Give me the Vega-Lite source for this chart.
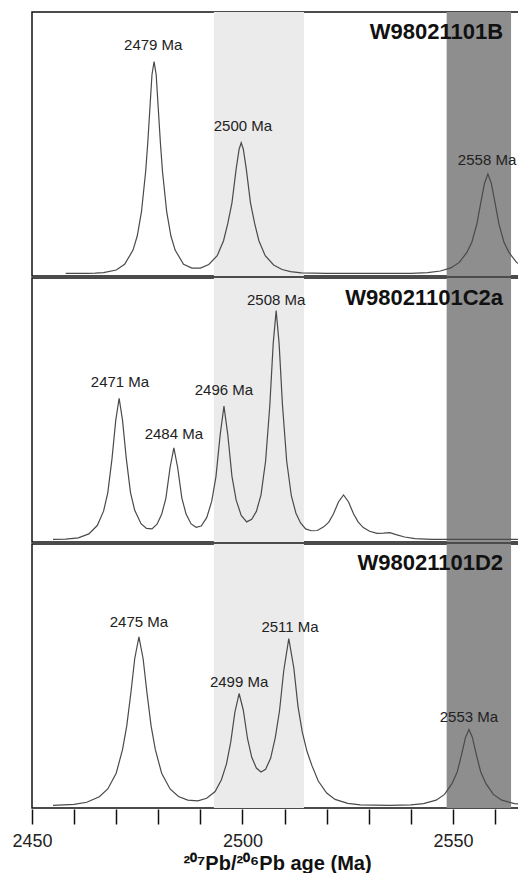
{
"$schema":"https://vega.github.io/schema/vega-lite/v6.json",
"padding":{"left":11,"top":11,"right":0,"bottom":0},
"background":"white",
"data":{"values":[
{"p":"B","k":"b","x":2493.2,"x2":2514.6,"f":"s"},{"p":"B","k":"b","x":2548.5,"x2":2563.8,"f":"d"},
{"p":"C2a","k":"b","x":2493.2,"x2":2514.6,"f":"s"},{"p":"C2a","k":"b","x":2548.5,"x2":2563.8,"f":"d"},
{"p":"D2","k":"b","x":2493.2,"x2":2514.6,"f":"s"},{"p":"D2","k":"b","x":2548.5,"x2":2563.8,"f":"d"},
{"p":"B","k":"t","x":2561.9,"y":0.924,"t":"W98021101B"},
{"p":"C2a","k":"t","x":2561.9,"y":0.923,"t":"W98021101C2a"},
{"p":"D2","k":"t","x":2561.9,"y":0.927,"t":"W98021101D2"},
{"p":"B","k":"l","x":2478.8,"y":0.874,"t":"2479 Ma"},
{"p":"B","k":"l","x":2500.1,"y":0.564,"t":"2500 Ma"},
{"p":"B","k":"l","x":2558.1,"y":0.434,"t":"2558 Ma"},
{"p":"C2a","k":"l","x":2508.0,"y":0.916,"t":"2508 Ma"},
{"p":"C2a","k":"l","x":2470.9,"y":0.602,"t":"2471 Ma"},
{"p":"C2a","k":"l","x":2483.7,"y":0.403,"t":"2484 Ma"},
{"p":"C2a","k":"l","x":2495.6,"y":0.572,"t":"2496 Ma"},
{"p":"D2","k":"l","x":2475.4,"y":0.702,"t":"2475 Ma"},
{"p":"D2","k":"l","x":2511.3,"y":0.683,"t":"2511 Ma"},
{"p":"D2","k":"l","x":2499.2,"y":0.472,"t":"2499 Ma"},
{"p":"D2","k":"l","x":2553.8,"y":0.338,"t":"2553 Ma"},
{"p":"B","k":"c","x":2458,"y":0},{"p":"B","k":"c","x":2463,"y":0},{"p":"B","k":"c","x":2465,"y":0.001},{"p":"B","k":"c","x":2467,"y":0.003},{"p":"B","k":"c","x":2470,"y":0.013},{"p":"B","k":"c","x":2472,"y":0.035},{"p":"B","k":"c","x":2474,"y":0.089},{"p":"B","k":"c","x":2475,"y":0.143},{"p":"B","k":"c","x":2476,"y":0.235},{"p":"B","k":"c","x":2477,"y":0.39},{"p":"B","k":"c","x":2477.5,"y":0.5},{"p":"B","k":"c","x":2478,"y":0.63},{"p":"B","k":"c","x":2478.5,"y":0.76},{"p":"B","k":"c","x":2479,"y":0.81},{"p":"B","k":"c","x":2479.5,"y":0.76},{"p":"B","k":"c","x":2480,"y":0.63},{"p":"B","k":"c","x":2480.5,"y":0.5},{"p":"B","k":"c","x":2481,"y":0.39},{"p":"B","k":"c","x":2482,"y":0.235},{"p":"B","k":"c","x":2483,"y":0.143},{"p":"B","k":"c","x":2484,"y":0.089},{"p":"B","k":"c","x":2486,"y":0.035},{"p":"B","k":"c","x":2488,"y":0.02},{"p":"B","k":"c","x":2490,"y":0.02},{"p":"B","k":"c","x":2492,"y":0.034},{"p":"B","k":"c","x":2494,"y":0.068},{"p":"B","k":"c","x":2495.5,"y":0.125},{"p":"B","k":"c","x":2496.5,"y":0.19},{"p":"B","k":"c","x":2497.5,"y":0.27},{"p":"B","k":"c","x":2498.5,"y":0.4},{"p":"B","k":"c","x":2499.2,"y":0.475},{"p":"B","k":"c","x":2499.7,"y":0.5},{"p":"B","k":"c","x":2500.2,"y":0.475},{"p":"B","k":"c","x":2500.9,"y":0.4},{"p":"B","k":"c","x":2501.9,"y":0.27},{"p":"B","k":"c","x":2502.9,"y":0.19},{"p":"B","k":"c","x":2503.9,"y":0.125},{"p":"B","k":"c","x":2505.4,"y":0.068},{"p":"B","k":"c","x":2507.4,"y":0.032},{"p":"B","k":"c","x":2509.4,"y":0.015},{"p":"B","k":"c","x":2511.4,"y":0.007},{"p":"B","k":"c","x":2514,"y":0.002},{"p":"B","k":"c","x":2520,"y":0},{"p":"B","k":"c","x":2540,"y":0},{"p":"B","k":"c","x":2544,"y":0.003},{"p":"B","k":"c","x":2547,"y":0.009},{"p":"B","k":"c","x":2549.5,"y":0.021},{"p":"B","k":"c","x":2551.5,"y":0.042},{"p":"B","k":"c","x":2553.3,"y":0.08},{"p":"B","k":"c","x":2554.5,"y":0.12},{"p":"B","k":"c","x":2555.7,"y":0.19},{"p":"B","k":"c","x":2556.6,"y":0.27},{"p":"B","k":"c","x":2557.5,"y":0.345},{"p":"B","k":"c","x":2558.3,"y":0.38},{"p":"B","k":"c","x":2559.1,"y":0.345},{"p":"B","k":"c","x":2560,"y":0.27},{"p":"B","k":"c","x":2560.9,"y":0.19},{"p":"B","k":"c","x":2562.1,"y":0.12},{"p":"B","k":"c","x":2563.3,"y":0.08},{"p":"B","k":"c","x":2565.1,"y":0.042},{"p":"B","k":"c","x":2567,"y":0.022},
{"p":"C2a","k":"c","x":2455,"y":0},{"p":"C2a","k":"c","x":2458,"y":0.001},{"p":"C2a","k":"c","x":2461,"y":0.006},{"p":"C2a","k":"c","x":2463.5,"y":0.021},{"p":"C2a","k":"c","x":2465.5,"y":0.053},{"p":"C2a","k":"c","x":2467,"y":0.108},{"p":"C2a","k":"c","x":2468,"y":0.178},{"p":"C2a","k":"c","x":2469,"y":0.308},{"p":"C2a","k":"c","x":2469.9,"y":0.456},{"p":"C2a","k":"c","x":2470.7,"y":0.54},{"p":"C2a","k":"c","x":2471.5,"y":0.456},{"p":"C2a","k":"c","x":2472.4,"y":0.309},{"p":"C2a","k":"c","x":2473.4,"y":0.179},{"p":"C2a","k":"c","x":2474.4,"y":0.111},{"p":"C2a","k":"c","x":2475.9,"y":0.06},{"p":"C2a","k":"c","x":2477.2,"y":0.042},{"p":"C2a","k":"c","x":2478.5,"y":0.04},{"p":"C2a","k":"c","x":2479.7,"y":0.058},{"p":"C2a","k":"c","x":2480.8,"y":0.096},{"p":"C2a","k":"c","x":2481.8,"y":0.157},{"p":"C2a","k":"c","x":2482.8,"y":0.275},{"p":"C2a","k":"c","x":2483.7,"y":0.35},{"p":"C2a","k":"c","x":2484.6,"y":0.275},{"p":"C2a","k":"c","x":2485.6,"y":0.158},{"p":"C2a","k":"c","x":2486.6,"y":0.097},{"p":"C2a","k":"c","x":2487.8,"y":0.059},{"p":"C2a","k":"c","x":2489,"y":0.046},{"p":"C2a","k":"c","x":2490.2,"y":0.051},{"p":"C2a","k":"c","x":2491.5,"y":0.083},{"p":"C2a","k":"c","x":2492.7,"y":0.146},{"p":"C2a","k":"c","x":2493.7,"y":0.24},{"p":"C2a","k":"c","x":2494.7,"y":0.4},{"p":"C2a","k":"c","x":2495.6,"y":0.51},{"p":"C2a","k":"c","x":2496.5,"y":0.402},{"p":"C2a","k":"c","x":2497.5,"y":0.241},{"p":"C2a","k":"c","x":2498.5,"y":0.15},{"p":"C2a","k":"c","x":2499.7,"y":0.092},{"p":"C2a","k":"c","x":2501,"y":0.067},{"p":"C2a","k":"c","x":2502.2,"y":0.077},{"p":"C2a","k":"c","x":2503.3,"y":0.107},{"p":"C2a","k":"c","x":2504.4,"y":0.17},{"p":"C2a","k":"c","x":2505.5,"y":0.301},{"p":"C2a","k":"c","x":2506.5,"y":0.514},{"p":"C2a","k":"c","x":2507.3,"y":0.75},{"p":"C2a","k":"c","x":2508,"y":0.875},{"p":"C2a","k":"c","x":2508.7,"y":0.75},{"p":"C2a","k":"c","x":2509.5,"y":0.514},{"p":"C2a","k":"c","x":2510.5,"y":0.3},{"p":"C2a","k":"c","x":2511.6,"y":0.167},{"p":"C2a","k":"c","x":2512.7,"y":0.1},{"p":"C2a","k":"c","x":2513.8,"y":0.063},{"p":"C2a","k":"c","x":2515,"y":0.04},{"p":"C2a","k":"c","x":2516.3,"y":0.033},{"p":"C2a","k":"c","x":2517.8,"y":0.034},{"p":"C2a","k":"c","x":2519.3,"y":0.048},{"p":"C2a","k":"c","x":2520.5,"y":0.066},{"p":"C2a","k":"c","x":2521.6,"y":0.097},{"p":"C2a","k":"c","x":2522.8,"y":0.143},{"p":"C2a","k":"c","x":2524,"y":0.17},{"p":"C2a","k":"c","x":2525.2,"y":0.143},{"p":"C2a","k":"c","x":2526.4,"y":0.097},{"p":"C2a","k":"c","x":2527.5,"y":0.066},{"p":"C2a","k":"c","x":2528.7,"y":0.045},{"p":"C2a","k":"c","x":2530.2,"y":0.031},{"p":"C2a","k":"c","x":2532,"y":0.023},{"p":"C2a","k":"c","x":2533.5,"y":0.024},{"p":"C2a","k":"c","x":2535,"y":0.026},{"p":"C2a","k":"c","x":2536.5,"y":0.018},{"p":"C2a","k":"c","x":2538.5,"y":0.009},{"p":"C2a","k":"c","x":2541,"y":0.003},{"p":"C2a","k":"c","x":2545,"y":0},{"p":"C2a","k":"c","x":2566,"y":0},
{"p":"D2","k":"c","x":2455,"y":0},{"p":"D2","k":"c","x":2460,"y":0.004},{"p":"D2","k":"c","x":2463,"y":0.012},{"p":"D2","k":"c","x":2466,"y":0.033},{"p":"D2","k":"c","x":2468,"y":0.063},{"p":"D2","k":"c","x":2470,"y":0.123},{"p":"D2","k":"c","x":2471.5,"y":0.213},{"p":"D2","k":"c","x":2472.5,"y":0.303},{"p":"D2","k":"c","x":2473.5,"y":0.432},{"p":"D2","k":"c","x":2474.4,"y":0.561},{"p":"D2","k":"c","x":2475.4,"y":0.645},{"p":"D2","k":"c","x":2476.4,"y":0.561},{"p":"D2","k":"c","x":2477.3,"y":0.432},{"p":"D2","k":"c","x":2478.3,"y":0.303},{"p":"D2","k":"c","x":2479.3,"y":0.213},{"p":"D2","k":"c","x":2480.8,"y":0.123},{"p":"D2","k":"c","x":2482.8,"y":0.063},{"p":"D2","k":"c","x":2484.8,"y":0.034},{"p":"D2","k":"c","x":2487,"y":0.02},{"p":"D2","k":"c","x":2489.4,"y":0.017},{"p":"D2","k":"c","x":2491.5,"y":0.027},{"p":"D2","k":"c","x":2493.5,"y":0.053},{"p":"D2","k":"c","x":2495,"y":0.098},{"p":"D2","k":"c","x":2496.2,"y":0.159},{"p":"D2","k":"c","x":2497.2,"y":0.241},{"p":"D2","k":"c","x":2498.2,"y":0.357},{"p":"D2","k":"c","x":2499.2,"y":0.428},{"p":"D2","k":"c","x":2500.2,"y":0.364},{"p":"D2","k":"c","x":2501.2,"y":0.255},{"p":"D2","k":"c","x":2502.2,"y":0.184},{"p":"D2","k":"c","x":2503.3,"y":0.143},{"p":"D2","k":"c","x":2504.4,"y":0.128},{"p":"D2","k":"c","x":2505.5,"y":0.138},{"p":"D2","k":"c","x":2506.7,"y":0.181},{"p":"D2","k":"c","x":2507.8,"y":0.26},{"p":"D2","k":"c","x":2508.8,"y":0.362},{"p":"D2","k":"c","x":2509.8,"y":0.515},{"p":"D2","k":"c","x":2511,"y":0.638},{"p":"D2","k":"c","x":2512.2,"y":0.525},{"p":"D2","k":"c","x":2513.2,"y":0.377},{"p":"D2","k":"c","x":2514.2,"y":0.281},{"p":"D2","k":"c","x":2515.3,"y":0.208},{"p":"D2","k":"c","x":2516.5,"y":0.152},{"p":"D2","k":"c","x":2518,"y":0.093},{"p":"D2","k":"c","x":2520,"y":0.047},{"p":"D2","k":"c","x":2522,"y":0.023},{"p":"D2","k":"c","x":2525,"y":0.008},{"p":"D2","k":"c","x":2528,"y":0.002},{"p":"D2","k":"c","x":2535,"y":0},{"p":"D2","k":"c","x":2540,"y":0.002},{"p":"D2","k":"c","x":2543,"y":0.007},{"p":"D2","k":"c","x":2546,"y":0.02},{"p":"D2","k":"c","x":2548,"y":0.042},{"p":"D2","k":"c","x":2549.8,"y":0.084},{"p":"D2","k":"c","x":2551,"y":0.128},{"p":"D2","k":"c","x":2552,"y":0.191},{"p":"D2","k":"c","x":2553,"y":0.261},{"p":"D2","k":"c","x":2553.8,"y":0.29},{"p":"D2","k":"c","x":2554.6,"y":0.261},{"p":"D2","k":"c","x":2555.6,"y":0.191},{"p":"D2","k":"c","x":2556.6,"y":0.128},{"p":"D2","k":"c","x":2557.8,"y":0.084},{"p":"D2","k":"c","x":2559.6,"y":0.042},{"p":"D2","k":"c","x":2561.6,"y":0.02},{"p":"D2","k":"c","x":2564.6,"y":0.007},{"p":"D2","k":"c","x":2567.6,"y":0.002}
]},
"facet":{"row":{"field":"p","type":"nominal","sort":["B","C2a","D2"],"title":null,"header":{"labels":false,"title":null}}},
"spacing":0,
"spec":{
"width":490,"height":264,
"layer":[
{"transform":[{"filter":"datum.k==='b'"}],
 "mark":{"type":"rect","clip":true},
 "encoding":{
  "x":{"field":"x","type":"quantitative","scale":{"domain":[2450,2566.4],"nice":false,"zero":false},"axis":{"values":[2450,2455,2460,2465,2470,2475,2480,2485,2490,2495,2500,2505,2510,2515,2520,2525,2530,2535,2540,2545,2550,2555,2560,2565],"labelExpr":"datum.value % 50 === 0 ? datum.label : ''","format":"d","title":"²⁰⁷Pb/²⁰⁶Pb age (Ma)"}},
  "x2":{"field":"x2"},
  "fill":{"field":"f","type":"nominal","scale":{"domain":["s","d"],"range":["#ebebeb","#8e8e8e"]},"legend":null}
 }},
{"transform":[{"filter":"datum.k==='c'"}],
 "mark":{"type":"line","clip":true,"color":"#4a4a4a","strokeWidth":1.2},
 "encoding":{
  "x":{"field":"x","type":"quantitative"},
  "y":{"field":"y","type":"quantitative","scale":{"domain":[-0.01,1],"nice":false,"zero":false},"axis":null}
 }},
{"transform":[{"filter":"datum.k==='l'"}],
 "mark":{"type":"text","font":"Liberation Sans","fontSize":15,"color":"#222","baseline":"middle","align":"center"},
 "encoding":{
  "x":{"field":"x","type":"quantitative"},
  "y":{"field":"y","type":"quantitative"},
  "text":{"field":"t"}
 }},
{"transform":[{"filter":"datum.k==='t'"}],
 "mark":{"type":"text","font":"Liberation Sans","fontSize":22,"fontWeight":"bold","color":"#111","baseline":"middle","align":"right"},
 "encoding":{
  "x":{"field":"x","type":"quantitative"},
  "y":{"field":"y","type":"quantitative"},
  "text":{"field":"t"}
 }}
]},
"config":{
 "view":{"stroke":"#111","strokeWidth":1.5},
 "axisX":{"domain":false,"grid":false,"ticks":true,"tickSize":15,"tickWidth":1.5,"tickColor":"#111","labelFont":"Liberation Sans","labelFontSize":18,"labelColor":"#222","labelPadding":8,"labelOverlap":false,"labelFlush":false,"titleFont":"Liberation Sans","titleFontSize":20,"titleFontWeight":"bold","titleColor":"#111","titlePadding":3}
}
}
